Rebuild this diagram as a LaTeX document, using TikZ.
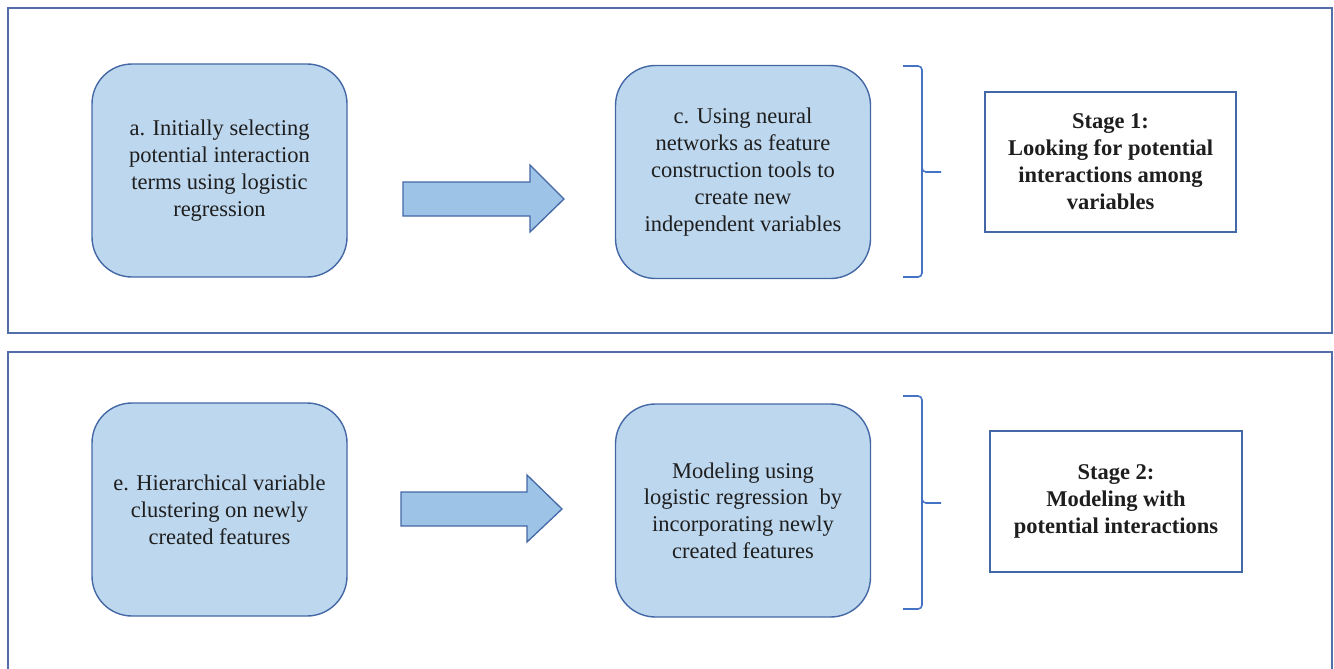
\documentclass[tikz,border=0pt]{standalone}
\usepackage{fontspec}
\setmainfont{Liberation Serif}
\definecolor{boxfill}{RGB}{189,215,238}
\definecolor{boxline}{RGB}{68,104,166}
\definecolor{arrowfill}{RGB}{157,195,230}
\definecolor{frameline}{RGB}{82,110,168}
\definecolor{braceline}{RGB}{68,114,196}
\definecolor{txt}{RGB}{30,30,30}
\begin{document}
\begin{tikzpicture}[x=1pt,y=-1pt,
  stepbox/.style={draw=boxline, line width=1.4pt, fill=boxfill, rounded corners=40pt,
    minimum width=255pt, minimum height=213pt, align=center, text=txt,
    font=\fontsize{22.5}{26.8}\selectfont, inner sep=0pt},
  stagebox/.style={draw=boxline, line width=1.5pt, fill=white,
    minimum width=251pt, minimum height=140pt, align=center, text=txt,
    font=\fontsize{22.5}{27}\selectfont\bfseries, inner sep=0pt},
  frame/.style={draw=frameline, line width=1.8pt},
  blockarrow/.style={draw=boxline, line width=1.3pt, fill=arrowfill, line join=miter},
  bracket/.style={draw=braceline, line width=1.6pt, rounded corners=4pt}]
\useasboundingbox (0,0) rectangle (1334,669);
\fill[white] (0,0) rectangle (1334,669);
% frames
\draw[frame] (8,8) rectangle (1332,333);
\draw[frame] (8,680) -- (8,352) -- (1332,352) -- (1332,680);
% stage 1
\node[stepbox] (a) at (219.5,170.5) {a. Initially selecting\\potential interaction\\terms using logistic\\regression};
\node[stepbox] (c) at (743,172) {c. Using neural\\networks as feature\\construction tools to\\create new\\independent variables};
\node[stagebox] (s1) at (1110.5,162) {Stage 1:\\Looking for potential\\interactions among\\variables};
% stage 2
\node[stepbox] (e) at (219.5,509.5) {e. Hierarchical variable\\clustering on newly\\created features};
\node[stepbox] (d) at (743,510.5) {Modeling using\\logistic regression\ \ by\\incorporating newly\\created features};
\node[stagebox, minimum width=252pt, minimum height=141pt] (s2) at (1116,501.5) {Stage 2:\\Modeling with\\potential interactions};
% block arrows
\draw[blockarrow] (403,182) -- (530,182) -- (530,165) -- (564,199) -- (530,232) -- (530,216) -- (403,216) -- cycle;
\draw[blockarrow] (401,492) -- (527,492) -- (527,475) -- (562,509) -- (527,542) -- (527,526) -- (401,526) -- cycle;
% brackets
\draw[bracket] (903,66) -- (922,66) -- (922,172) -- (941,172);
\draw[bracket] (922,160) -- (922,277) -- (903,277);
\draw[bracket] (903,396) -- (922,396) -- (922,503) -- (941,503);
\draw[bracket] (922,490) -- (922,609) -- (903,609);
\end{tikzpicture}
\end{document}
